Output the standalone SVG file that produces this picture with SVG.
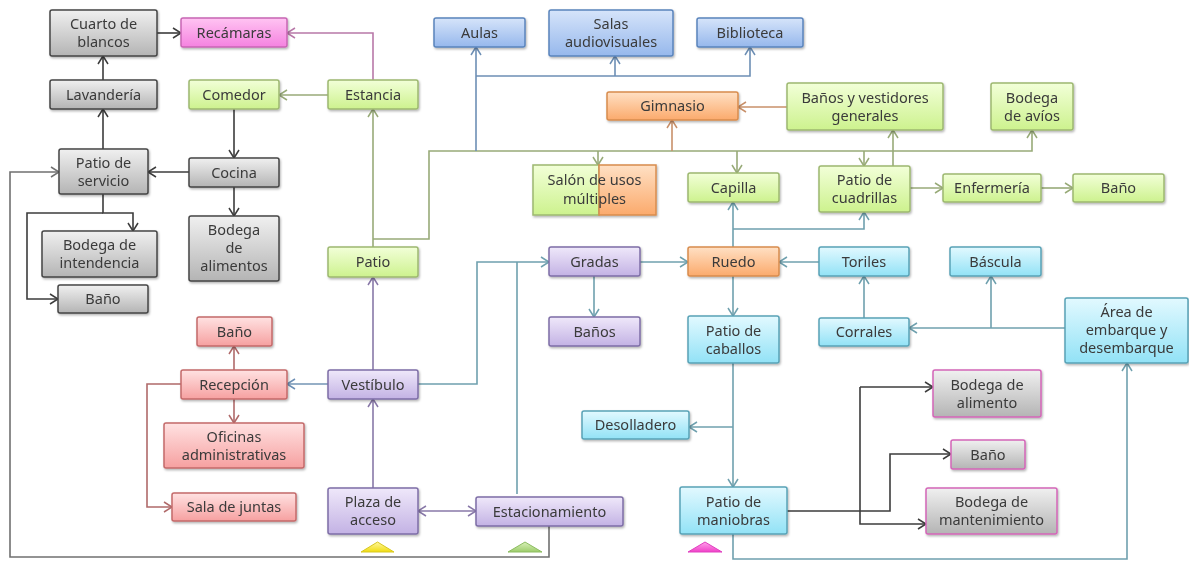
<svg xmlns="http://www.w3.org/2000/svg" width="1189" height="561" viewBox="0 0 1189 561">
<defs>
<linearGradient id="gGray" x1="0" y1="0" x2="0" y2="1"><stop offset="0" stop-color="#f0f0f0"/><stop offset="1" stop-color="#b4b4b4"/></linearGradient>
<linearGradient id="gGreen" x1="0" y1="0" x2="0" y2="1"><stop offset="0" stop-color="#f2ffd8"/><stop offset="1" stop-color="#cdf28e"/></linearGradient>
<linearGradient id="gPink" x1="0" y1="0" x2="0" y2="1"><stop offset="0" stop-color="#ffc4f2"/><stop offset="1" stop-color="#f582e0"/></linearGradient>
<linearGradient id="gBlue" x1="0" y1="0" x2="0" y2="1"><stop offset="0" stop-color="#d6e4fa"/><stop offset="1" stop-color="#96b8ec"/></linearGradient>
<linearGradient id="gOrange" x1="0" y1="0" x2="0" y2="1"><stop offset="0" stop-color="#ffe0c4"/><stop offset="1" stop-color="#fbaa6c"/></linearGradient>
<linearGradient id="gPurple" x1="0" y1="0" x2="0" y2="1"><stop offset="0" stop-color="#efe8fa"/><stop offset="1" stop-color="#c3b2e4"/></linearGradient>
<linearGradient id="gRed" x1="0" y1="0" x2="0" y2="1"><stop offset="0" stop-color="#ffe2e2"/><stop offset="1" stop-color="#f6a0a0"/></linearGradient>
<linearGradient id="gCyan" x1="0" y1="0" x2="0" y2="1"><stop offset="0" stop-color="#e2f9ff"/><stop offset="1" stop-color="#92e2f6"/></linearGradient>
<linearGradient id="gYel" x1="0" y1="0" x2="0" y2="1"><stop offset="0" stop-color="#fff7a0"/><stop offset="1" stop-color="#f0dc10"/></linearGradient>
<linearGradient id="gTriG" x1="0" y1="0" x2="0" y2="1"><stop offset="0" stop-color="#d8f0b8"/><stop offset="1" stop-color="#9ccc6a"/></linearGradient>
<linearGradient id="gTriP" x1="0" y1="0" x2="0" y2="1"><stop offset="0" stop-color="#ffa0ea"/><stop offset="1" stop-color="#f040c8"/></linearGradient>
<filter id="sh" x="-10%" y="-10%" width="130%" height="140%"><feDropShadow dx="1" dy="1.5" stdDeviation="1" flood-color="#000" flood-opacity="0.3"/></filter>
<marker id="mK" viewBox="-10 -7 12 14" refX="0" refY="0" markerWidth="12" markerHeight="14" markerUnits="userSpaceOnUse" orient="auto-start-reverse"><path d="M-8,-5 L0,0 L-8,5" fill="none" stroke="#3c3c3c" stroke-width="1.5"/></marker>
<marker id="mGr" viewBox="-10 -7 12 14" refX="0" refY="0" markerWidth="12" markerHeight="14" markerUnits="userSpaceOnUse" orient="auto-start-reverse"><path d="M-8,-5 L0,0 L-8,5" fill="none" stroke="#707070" stroke-width="1.5"/></marker>
<marker id="mPk" viewBox="-10 -7 12 14" refX="0" refY="0" markerWidth="12" markerHeight="14" markerUnits="userSpaceOnUse" orient="auto-start-reverse"><path d="M-8,-5 L0,0 L-8,5" fill="none" stroke="#b878a8" stroke-width="1.5"/></marker>
<marker id="mG" viewBox="-10 -7 12 14" refX="0" refY="0" markerWidth="12" markerHeight="14" markerUnits="userSpaceOnUse" orient="auto-start-reverse"><path d="M-8,-5 L0,0 L-8,5" fill="none" stroke="#98aa78" stroke-width="1.5"/></marker>
<marker id="mB" viewBox="-10 -7 12 14" refX="0" refY="0" markerWidth="12" markerHeight="14" markerUnits="userSpaceOnUse" orient="auto-start-reverse"><path d="M-8,-5 L0,0 L-8,5" fill="none" stroke="#6d8fb5" stroke-width="1.5"/></marker>
<marker id="mO" viewBox="-10 -7 12 14" refX="0" refY="0" markerWidth="12" markerHeight="14" markerUnits="userSpaceOnUse" orient="auto-start-reverse"><path d="M-8,-5 L0,0 L-8,5" fill="none" stroke="#c8906a" stroke-width="1.5"/></marker>
<marker id="mP" viewBox="-10 -7 12 14" refX="0" refY="0" markerWidth="12" markerHeight="14" markerUnits="userSpaceOnUse" orient="auto-start-reverse"><path d="M-8,-5 L0,0 L-8,5" fill="none" stroke="#8878a8" stroke-width="1.5"/></marker>
<marker id="mT" viewBox="-10 -7 12 14" refX="0" refY="0" markerWidth="12" markerHeight="14" markerUnits="userSpaceOnUse" orient="auto-start-reverse"><path d="M-8,-5 L0,0 L-8,5" fill="none" stroke="#6fa0ae" stroke-width="1.5"/></marker>
<marker id="mR" viewBox="-10 -7 12 14" refX="0" refY="0" markerWidth="12" markerHeight="14" markerUnits="userSpaceOnUse" orient="auto-start-reverse"><path d="M-8,-5 L0,0 L-8,5" fill="none" stroke="#b06a6a" stroke-width="1.5"/></marker>
</defs>
<style>
text{font-family:"Noto Sans","DejaVu Sans",sans-serif;font-size:14.5px;fill:#3a3a3a;text-anchor:middle}
.n rect{stroke-width:1.5}
.gray rect{fill:url(#gGray);stroke:#454545}
.green rect{fill:url(#gGreen);stroke:#9db870}
.pink rect{fill:url(#gPink);stroke:#c866b4}
.blue rect{fill:url(#gBlue);stroke:#5a84bc}
.orange rect{fill:url(#gOrange);stroke:#d88c4e}
.purple rect{fill:url(#gPurple);stroke:#7e6ea6}
.red rect{fill:url(#gRed);stroke:#c46a6a}
.cyan rect{fill:url(#gCyan);stroke:#58a2b6}
.gp rect{fill:url(#gGray);stroke:#d466b8}
#edges path{fill:none;stroke-width:1.6}
.k{stroke:#3c3c3c}
.gr{stroke:#707070}
.pk{stroke:#b878a8}
.g{stroke:#98aa78}
.b{stroke:#6d8fb5}
.o{stroke:#c8906a}
.p{stroke:#8878a8}
.t{stroke:#6fa0ae}
.r{stroke:#b06a6a}
.vb{stroke:#7394b4}
</style>
<rect width="1189" height="561" fill="#ffffff"/>
<g id="edges">
<path class="k" d="M157,33 H181" marker-end="url(#mK)"/>
<path class="k" d="M103,80 V56" marker-end="url(#mK)"/>
<path class="k" d="M103,149 V109" marker-end="url(#mK)"/>
<path class="k" d="M234,109 V158" marker-end="url(#mK)"/>
<path class="k" d="M189,172 H148" marker-end="url(#mK)"/>
<path class="k" d="M234,187 V216" marker-end="url(#mK)"/>
<path class="k" d="M103,194 V213 H133 V231" marker-end="url(#mK)"/>
<path class="k" d="M103,213 H27 V299 H58" marker-end="url(#mK)"/>
<path class="gr" d="M549,526 V557 H10 V172 H59" marker-end="url(#mGr)"/>
<path class="pk" d="M373,80 V33 H287" marker-end="url(#mPk)"/>
<path class="g" d="M328,95 H279" marker-end="url(#mG)"/>
<path class="g" d="M373,247 V109" marker-end="url(#mG)"/>
<path class="g" d="M373,239 H429 V151 H1032 V130" marker-end="url(#mG)"/>
<path class="g" d="M598,151 V165" marker-end="url(#mG)"/>
<path class="g" d="M737,151 V173" marker-end="url(#mG)"/>
<path class="g" d="M864,151 V166" marker-end="url(#mG)"/>
<path class="g" d="M893,166 V130" marker-end="url(#mG)"/>
<path class="g" d="M910,188 H943" marker-end="url(#mG)"/>
<path class="g" d="M1041,188 H1073" marker-end="url(#mG)"/>
<path class="b" d="M476,151 V47" marker-end="url(#mB)"/>
<path class="b" d="M476,76 H750 V47" marker-end="url(#mB)"/>
<path class="b" d="M615,76 V56" marker-end="url(#mB)"/>
<path class="o" d="M672,151 V120" marker-end="url(#mO)"/>
<path class="o" d="M787,107 H738" marker-end="url(#mO)"/>
<path class="p" d="M373,370 V277" marker-end="url(#mP)"/>
<path class="p" d="M373,488 V399" marker-end="url(#mP)"/>
<path class="p" d="M418,511 H476" marker-start="url(#mP)" marker-end="url(#mP)"/>
<path class="vb" d="M328,384 H287" marker-end="url(#mB)"/>
<path class="t" d="M418,384 H477 V262 H549" marker-end="url(#mT)"/>
<path class="t" d="M517,494 V262"/>
<path class="t" d="M640,262 H688" marker-end="url(#mT)"/>
<path class="t" d="M594,276 V317" marker-end="url(#mT)"/>
<path class="t" d="M733,247 V202" marker-end="url(#mT)"/>
<path class="t" d="M733,229 H864 V212" marker-end="url(#mT)"/>
<path class="t" d="M733,276 V316" marker-end="url(#mT)"/>
<path class="t" d="M819,262 H779" marker-end="url(#mT)"/>
<path class="t" d="M864,318 V276" marker-end="url(#mT)"/>
<path class="t" d="M1065,328 H909" marker-end="url(#mT)"/>
<path class="t" d="M991,328 V276" marker-end="url(#mT)"/>
<path class="t" d="M733,363 V487" marker-end="url(#mT)"/>
<path class="t" d="M733,427 H689" marker-end="url(#mT)"/>
<path class="t" d="M733,534 V559 H1127 V363" marker-end="url(#mT)"/>
<path class="r" d="M234,370 V346" marker-end="url(#mR)"/>
<path class="r" d="M234,399 V423" marker-end="url(#mR)"/>
<path class="r" d="M181,384 H147 V507 H172" marker-end="url(#mR)"/>
<path class="k" d="M787,511 H890 V454 H951" marker-end="url(#mK)"/>
<path class="k" d="M860,387 H933" marker-end="url(#mK)"/>
<path class="k" d="M860,387 V524 H926" marker-end="url(#mK)"/>
</g>
<g id="nodes" filter="url(#sh)">
<g id="cuarto" class="n gray"><rect x="50" y="10" width="107" height="46" rx="2"/><text x="103.5" y="29">Cuarto de</text><text x="103.5" y="47">blancos</text></g>
<g id="lavanderia" class="n gray"><rect x="50" y="80" width="107" height="29" rx="2"/><text x="103.5" y="99.5">Lavandería</text></g>
<g id="patioServicio" class="n gray"><rect x="59" y="149" width="89" height="45" rx="2"/><text x="103.5" y="167.5">Patio de</text><text x="103.5" y="185.5">servicio</text></g>
<g id="cocina" class="n gray"><rect x="189" y="158" width="90" height="29" rx="2"/><text x="234" y="177.5">Cocina</text></g>
<g id="bodegaIntendencia" class="n gray"><rect x="42" y="231" width="115" height="46" rx="2"/><text x="99.5" y="250">Bodega de</text><text x="99.5" y="268">intendencia</text></g>
<g id="banoServicio" class="n gray"><rect x="58" y="285" width="90" height="28" rx="2"/><text x="103" y="304">Baño</text></g>
<g id="bodegaAlimentos" class="n gray"><rect x="189" y="216" width="90" height="65" rx="2"/><text x="234" y="235">Bodega</text><text x="234" y="253">de</text><text x="234" y="271">alimentos</text></g>
<g id="recamaras" class="n pink"><rect x="181" y="18" width="106" height="29" rx="2"/><text x="234" y="37.5">Recámaras</text></g>
<g id="comedor" class="n green"><rect x="189" y="80" width="90" height="29" rx="2"/><text x="234" y="99.5">Comedor</text></g>
<g id="estancia" class="n green"><rect x="328" y="80" width="90" height="29" rx="2"/><text x="373" y="99.5">Estancia</text></g>
<g id="patio" class="n green"><rect x="328" y="247" width="90" height="30" rx="2"/><text x="373" y="267">Patio</text></g>
<g id="salonUsos" class="n"><rect x="533" y="165" width="66" height="50" fill="url(#gGreen)" stroke="#9db870"/><rect x="599" y="165" width="57" height="50" fill="url(#gOrange)" stroke="#d88c4e"/><text x="594.5" y="185">Salón de usos</text><text x="594.5" y="204">múltiples</text></g>
<g id="capilla" class="n green"><rect x="688" y="173" width="91" height="29" rx="2"/><text x="733.5" y="192.5">Capilla</text></g>
<g id="banosVestidores" class="n green"><rect x="787" y="83" width="156" height="47" rx="2"/><text x="865" y="102.5">Baños y vestidores</text><text x="865" y="120.5">generales</text></g>
<g id="bodegaAvios" class="n green"><rect x="991" y="83" width="82" height="47" rx="2"/><text x="1032" y="102.5">Bodega</text><text x="1032" y="120.5">de avíos</text></g>
<g id="patioCuadrillas" class="n green"><rect x="819" y="166" width="91" height="46" rx="2"/><text x="864.5" y="185">Patio de</text><text x="864.5" y="203">cuadrillas</text></g>
<g id="enfermeria" class="n green"><rect x="943" y="174" width="98" height="28" rx="2"/><text x="992" y="193">Enfermería</text></g>
<g id="banoEnfermeria" class="n green"><rect x="1073" y="174" width="91" height="28" rx="2"/><text x="1118.5" y="193">Baño</text></g>
<g id="aulas" class="n blue"><rect x="434" y="18" width="91" height="29" rx="2"/><text x="479.5" y="37.5">Aulas</text></g>
<g id="salasAudiovisuales" class="n blue"><rect x="549" y="10" width="124" height="46" rx="2"/><text x="611" y="29">Salas</text><text x="611" y="47">audiovisuales</text></g>
<g id="biblioteca" class="n blue"><rect x="697" y="18" width="106" height="29" rx="2"/><text x="750" y="37.5">Biblioteca</text></g>
<g id="gimnasio" class="n orange"><rect x="607" y="92" width="131" height="28" rx="2"/><text x="672.5" y="111">Gimnasio</text></g>
<g id="ruedo" class="n orange"><rect x="688" y="247" width="91" height="29" rx="2"/><text x="733.5" y="266.5">Ruedo</text></g>
<g id="gradas" class="n purple"><rect x="549" y="247" width="91" height="29" rx="2"/><text x="594.5" y="266.5">Gradas</text></g>
<g id="banosGradas" class="n purple"><rect x="549" y="317" width="91" height="29" rx="2"/><text x="594.5" y="336.5">Baños</text></g>
<g id="vestibulo" class="n purple"><rect x="328" y="370" width="90" height="29" rx="2"/><text x="373" y="389.5">Vestíbulo</text></g>
<g id="plazaAcceso" class="n purple"><rect x="328" y="488" width="90" height="46" rx="2"/><text x="373" y="507">Plaza de</text><text x="373" y="525">acceso</text></g>
<g id="estacionamiento" class="n purple"><rect x="476" y="497" width="147" height="29" rx="2"/><text x="549.5" y="516.5">Estacionamiento</text></g>
<g id="banoRecepcion" class="n red"><rect x="197" y="317" width="75" height="29" rx="2"/><text x="234.5" y="336.5">Baño</text></g>
<g id="recepcion" class="n red"><rect x="181" y="370" width="106" height="29" rx="2"/><text x="234" y="389.5">Recepción</text></g>
<g id="oficinas" class="n red"><rect x="164" y="423" width="140" height="45" rx="2"/><text x="234" y="441.5">Oficinas</text><text x="234" y="459.5">administrativas</text></g>
<g id="salaJuntas" class="n red"><rect x="172" y="493" width="124" height="28" rx="2"/><text x="234" y="512">Sala de juntas</text></g>
<g id="toriles" class="n cyan"><rect x="819" y="247" width="90" height="29" rx="2"/><text x="864" y="266.5">Toriles</text></g>
<g id="bascula" class="n cyan"><rect x="950" y="247" width="91" height="29" rx="2"/><text x="995.5" y="266.5">Báscula</text></g>
<g id="corrales" class="n cyan"><rect x="819" y="318" width="90" height="28" rx="2"/><text x="864" y="337">Corrales</text></g>
<g id="areaEmbarque" class="n cyan"><rect x="1065" y="298" width="123" height="65" rx="2"/><text x="1126.5" y="317">Área de</text><text x="1126.5" y="335">embarque y</text><text x="1126.5" y="353">desembarque</text></g>
<g id="patioCaballos" class="n cyan"><rect x="688" y="316" width="91" height="47" rx="2"/><text x="733.5" y="335.5">Patio de</text><text x="733.5" y="353.5">caballos</text></g>
<g id="desolladero" class="n cyan"><rect x="582" y="411" width="107" height="28" rx="2"/><text x="635.5" y="430">Desolladero</text></g>
<g id="patioManiobras" class="n cyan"><rect x="680" y="487" width="107" height="47" rx="2"/><text x="733.5" y="506.5">Patio de</text><text x="733.5" y="524.5">maniobras</text></g>
<g id="bodegaAlimento" class="n gp"><rect x="933" y="370" width="108" height="47" rx="2"/><text x="987" y="389.5">Bodega de</text><text x="987" y="407.5">alimento</text></g>
<g id="banoManiobras" class="n gp"><rect x="951" y="440" width="74" height="29" rx="2"/><text x="988" y="459.5">Baño</text></g>
<g id="bodegaMantenimiento" class="n gp"><rect x="926" y="488" width="131" height="46" rx="2"/><text x="991.5" y="507">Bodega de</text><text x="991.5" y="525">mantenimiento</text></g>
</g>
<g id="markers">
<polygon points="361,552 394,552 377.5,542" fill="url(#gYel)" stroke="#d8c820" stroke-width="1"/>
<polygon points="508,552 542,552 525,542" fill="url(#gTriG)" stroke="#8cbc60" stroke-width="1"/>
<polygon points="688,552 722,552 705,542" fill="url(#gTriP)" stroke="#e040c0" stroke-width="1"/>
</g>
</svg>
